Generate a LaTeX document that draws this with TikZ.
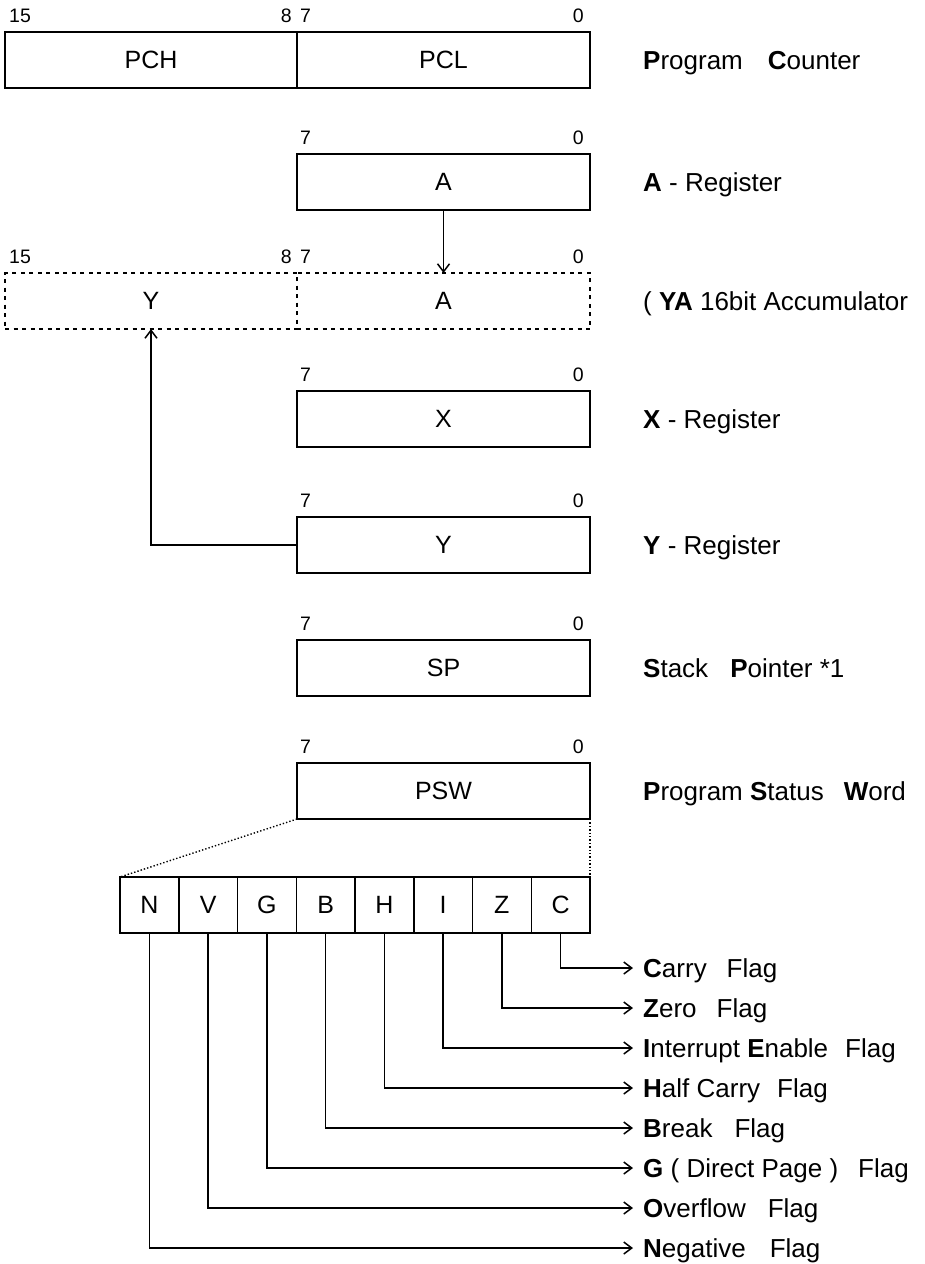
\documentclass[tikz,border=0pt]{standalone}
\usepackage{fontspec}
\setmainfont{Liberation Sans}
\setsansfont{Liberation Sans}
\usetikzlibrary{arrows.meta, positioning, calc}

\newcommand{\regfont}{\fontsize{25}{30}\selectfont}
\newcommand{\notefont}{\fontsize{26}{31}\selectfont}
\newcommand{\bitfont}{\fontsize{19.5}{23}\selectfont}

\begin{document}
\begin{tikzpicture}[x=1pt, y=-1pt,
  reg/.style={rectangle, draw=black, line width=1.6pt, anchor=north west,
              minimum width=293pt, minimum height=56pt, inner sep=0pt,
              outer sep=0pt, font=\regfont},
  dreg/.style={reg, draw=black, line width=1.8pt, dash pattern=on 4pt off 4.5pt},
  flag/.style={rectangle, draw=black, line width=1.5pt, anchor=north west,
               minimum width=58.75pt, minimum height=56pt, inner sep=0pt,
               outer sep=0pt, font=\regfont},
  bitnum/.style={inner sep=0pt, font=\bitfont, yshift=9pt},
  note/.style={anchor=west, inner xsep=10pt, inner ysep=0pt,
               text height=18.5pt, text depth=0pt, font=\notefont},
  arr/.style={-{Straight Barb[length=8pt,width=12pt]}, line width=1.5pt},
  dotline/.style={line width=1.4pt, dotted}
]
\useasboundingbox (0,0) rectangle (924,1264);

% Registers
\node[reg, minimum width=292pt] (pch) at (5,32) {PCH};
\node[reg] (pcl) at (297,32) {PCL};
\node[reg] (a) at (297,154) {A};
\node[dreg, minimum width=292pt] (yay) at (5,273) {Y};
\node[dreg] (yaa) at (297,273) {A};
\node[reg] (x) at (297,391) {X};
\node[reg] (y) at (297,517) {Y};
\node[reg] (sp) at (297,640) {SP};
\node[reg] (psw) at (297,763) {PSW};

% Bit numbers
\foreach \r in {pch, yay} {
  \node[bitnum, anchor=south west, xshift=4pt] at (\r.north west) {15};
  \node[bitnum, anchor=south east, xshift=-5pt] at (\r.north east) {8};
}
\foreach \r in {pcl, a, yaa, x, y, sp, psw} {
  \node[bitnum, anchor=south west, xshift=3pt] at (\r.north west) {7};
  \node[bitnum, anchor=south east, xshift=-6pt] at (\r.north east) {0};
}

% Register names
\node[note] (npc) at (633,60) {\textbf{P}rogram\hspace{25pt}\textbf{C}ounter};
\node[note] (na) at (633,182) {\textbf{A} - Register};
\node[note] (nya) at (633,301) {( \textbf{YA} 16bit Accumulator};
\node[note] (nx) at (633,419) {\textbf{X} - Register};
\node[note] (ny) at (633,545) {\textbf{Y} - Register};
\node[note] (nsp) at (633,668) {\textbf{S}tack\hspace{22pt}\textbf{P}ointer *1};
\node[note] (npsw) at (633,791) {\textbf{P}rogram \textbf{S}tatus\hspace{20pt}\textbf{W}ord};

% A and Y into YA
\draw[arr] (a.south) -- (a.south |- yaa.north);
\draw[arr] (y.west) -| (yay.south);

% PSW flags
\foreach \f [count=\i] in {N,V,G,B,H,I,Z,C}
  \node[flag] (f\f) at ({120+(\i-1)*58.75},877) {\f};

\draw[dotline] (psw.south west) -- (fN.north west);
\draw[dotline] (psw.south east) -- (fC.north east);

% Flag names
\foreach \f/\yy/\txt in {
    C/968/{\textbf{C}arry\hspace{20pt}Flag},
    Z/1008/{\textbf{Z}ero\hspace{20pt}Flag},
    I/1048/{\textbf{I}nterrupt \textbf{E}nable\hspace{17pt}Flag},
    H/1088/{\textbf{H}alf Carry\hspace{17pt}Flag},
    B/1128/{\textbf{B}reak\hspace{22pt}Flag},
    G/1168/{\textbf{G} ( Direct Page )\hspace{20pt}Flag},
    V/1208/{\textbf{O}verflow\hspace{22pt}Flag},
    N/1248/{\textbf{N}egative\hspace{24pt}Flag}} {
  \node[note] (l\f) at (633,\yy) {\txt};
  \draw[arr] (f\f.south) |- (l\f.west);
}

\end{tikzpicture}
\end{document}
